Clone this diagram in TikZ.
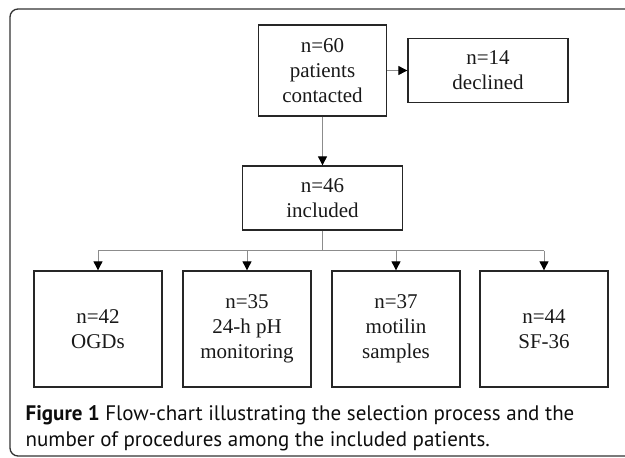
\documentclass[tikz,border=0pt]{standalone}
\usepackage{fontspec}
\setmainfont{Liberation Serif}
\newfontfamily\capfont{PT Sans}
\usepackage{color}
\usetikzlibrary{arrows.meta}

\begin{document}
\begin{tikzpicture}[x=1pt,y=-1pt,
	every node/.style={draw=black!85,line width=1.3pt,align=center,inner sep=0pt,text=black!90,font=\fontsize{21}{25}\selectfont},
	link/.style={draw=black!45,line width=0.9pt},
	arr/.style={link,-{Triangle[black,length=9pt,width=9pt]}}]
	\useasboundingbox (0,0) rectangle (625,458);
	\draw[black!80,line width=1.3pt,rounded corners=8pt] (10,9) rectangle (660,456);
	
	\node[minimum width=128,minimum height=91] (n1) at (322.5,70.5) {n=60\\patients\\contacted};
	\node[minimum width=160,minimum height=64] (n2) at (488,70.5) {n=14\\declined};
	\node[minimum width=160,minimum height=64] (n3) at (322.5,198) {n=46\\included};
	\node[minimum width=128,minimum height=116] (n4) at (98,329) {n=42\\OGDs};
	\node[minimum width=128,minimum height=116] (n5) at (247,329) {n=35\\24-h pH\\monitoring};
	\node[minimum width=128,minimum height=116] (n6) at (396,329) {n=37\\motilin\\samples};
	\node[minimum width=128,minimum height=116] (n7) at (544,329) {n=44\\SF-36};
	
	\draw[arr] (n1) -- (n2);
	\draw[arr] (n1) -- (n3);
	\draw[link] (n3.south) -- ++(0,20) coordinate (br);
	\draw[link] (br -| n4) -- (br -| n7);
	\foreach \n in {n4,n5,n6,n7}
		\draw[arr] (br -| \n) -- (\n.north);
	
	\node[draw=none,anchor=north west,align=left,text=black!95,font=\capfont\fontsize{21}{26}\selectfont] (cap) at (25,405) {\textbf{Figure 1} Flow-chart illustrating the selection process and the\\number of procedures among the included patients.};
\end{tikzpicture}
\end{document}
